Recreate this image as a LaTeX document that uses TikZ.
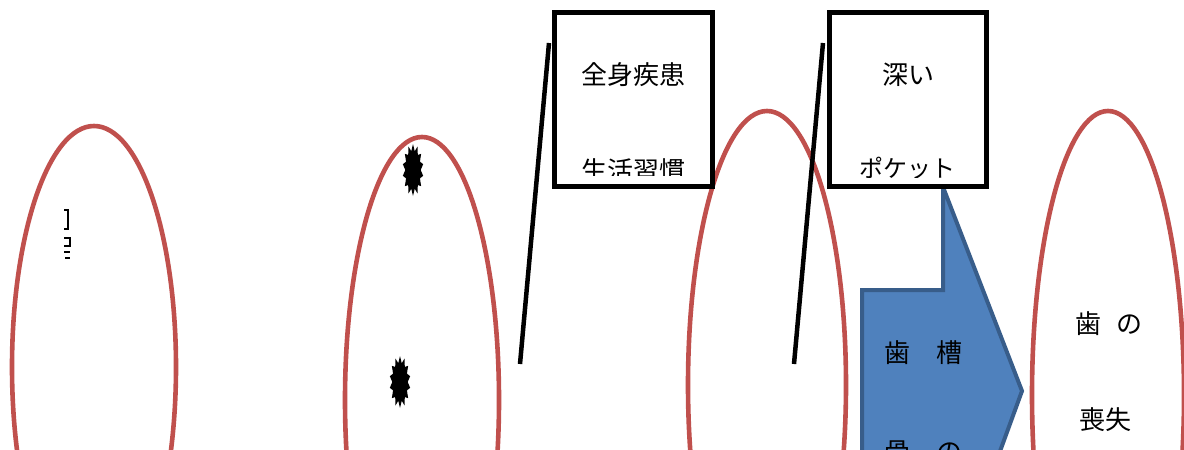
\documentclass[tikz,border=0pt]{standalone}
\usepackage{fontspec}
\newfontfamily\jp{Noto Sans CJK JP}
\usetikzlibrary{shapes.geometric}
\definecolor{tooth}{HTML}{C0504D}
\definecolor{arrfill}{HTML}{4F81BD}
\definecolor{arrline}{HTML}{385D8A}
\tikzset{
  labelbox/.style={draw=black, line width=5pt},
  leader/.style={draw=black, line width=4.5pt},
  jptext/.style={font=\jp\fontsize{26}{26}\selectfont, inner sep=0pt},
  jpsmall/.style={font=\jp\fontsize{26}{26}\selectfont, inner sep=0pt},
  jpkana/.style={font=\jp\fontsize{24}{24}\selectfont, inner sep=0pt},
  burst/.style={star, star points=14, star point ratio=1.35, fill=black, inner sep=0pt, minimum size=52pt, xscale=0.4}
}
\begin{document}
\begin{tikzpicture}[x=1pt,y=-1pt]
\useasboundingbox (0,0) rectangle (1184,450);
\begin{scope}
\clip (0,0) rectangle (1184,450);
% ovals
\draw[tooth, line width=4.6pt] (94,367) ellipse [x radius=82, y radius=241];
\coordinate (o1) at (94,367);
\draw[tooth, line width=4.6pt] (422,400) ellipse [x radius=77, y radius=263];
\coordinate (o2) at (422,400);
\draw[tooth, line width=4.6pt] (767,385) ellipse [x radius=79, y radius=274];
\coordinate (o3) at (767,385);
\draw[tooth, line width=4.6pt] (1108,395) ellipse [x radius=76, y radius=284];
\coordinate (o4) at (1108,395);
% fragments in first oval
\draw[black, line width=1.6pt] (64,210) -- (68,210) -- (68,229) -- (64,229);
\draw[black, line width=1.2pt] (64,238) -- (70,238) -- (70,246) -- (64,246) (64,252) -- (70,252) (65,258) -- (70,258);
% bursts
\node[burst] (b1) at (413,170) {};
\node[burst] (b2) at (400,382) {};
% leader lines
\coordinate (l1a) at (549,43); \coordinate (l1b) at (520,364);
\draw[leader] (l1a) -- (l1b);
\coordinate (l2a) at (823,43); \coordinate (l2b) at (794,364);
\draw[leader] (l2a) -- (l2b);
% blue arrow shape
\draw[fill=arrfill, draw=arrline, line width=4pt, line join=miter]
  (943,187) -- (1022,391) -- (995,465) -- (862,465) -- (862,290) -- (943,290) -- cycle;
\coordinate (arr) at (943,187);
\node[jptext] (t5) at (923,353) {歯\hspace{1em}槽};
\node[jptext] (t6) at (923,452) {骨\hspace{1em}の};
% boxes
\draw[fill=white, draw=none] (554,12) rectangle (712,186);
\node[jptext] (t1) at (633,75) {全身疾患};
\begin{scope}
\clip (554,12) rectangle (712,175);
\node[jpsmall] (t2) at (633,171) {生活習慣};
\end{scope}
\node[labelbox, minimum width=158pt, minimum height=174pt, inner sep=0pt] (box1) at (633,99) {};
\draw[fill=white, draw=none] (829,12) rectangle (986,186);
\node[jptext] (t3) at (908,75) {深い};
\begin{scope}
\clip (829,12) rectangle (986,177);
\node[jpkana] (t4) at (907,168) {ポケット};
\end{scope}
\node[labelbox, minimum width=157pt, minimum height=174pt, inner sep=0pt] (box2) at (908,99) {};
% right oval texts
\node[jptext] (t7) at (1109,324) {歯\hspace{0.55em}の};
\node[jptext] (t8) at (1105,420) {喪失};
\end{scope}
\end{tikzpicture}
\end{document}
